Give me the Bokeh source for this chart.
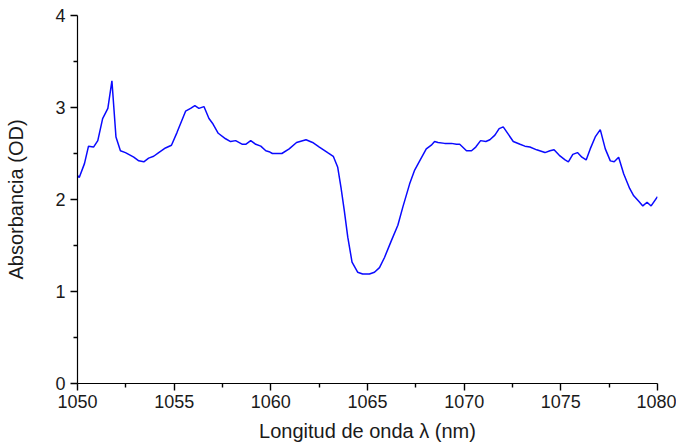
from bokeh.plotting import figure
from bokeh.models import Range1d, FixedTicker, LinearAxis
from bokeh.embed import file_html
from bokeh.resources import INLINE

wavelength = [1050.0, 1050.09, 1050.36, 1050.57, 1050.83, 1051.05, 1051.30, 1051.57, 1051.78, 1051.99,
              1052.22, 1052.48, 1052.91, 1053.17, 1053.43, 1053.68, 1053.94, 1054.20, 1054.55, 1054.86,
              1055.15, 1055.59, 1055.85, 1056.07, 1056.28, 1056.54, 1056.80, 1057.01, 1057.28, 1057.66,
              1057.92, 1058.18, 1058.53, 1058.70, 1058.96, 1059.22, 1059.48, 1059.74, 1059.91, 1060.08,
              1060.57, 1060.95, 1061.33, 1061.82, 1062.16, 1062.51, 1062.94, 1063.23, 1063.46, 1063.63,
              1063.80, 1063.98, 1064.20, 1064.49, 1064.75, 1065.10, 1065.36, 1065.62, 1065.88, 1066.23,
              1066.57, 1066.83, 1067.18, 1067.44, 1067.70, 1068.04, 1068.30, 1068.47, 1068.65, 1068.99,
              1069.34, 1069.60, 1069.77, 1070.12, 1070.38, 1070.60, 1070.85, 1071.12, 1071.33, 1071.59,
              1071.81, 1072.02, 1072.28, 1072.54, 1072.89, 1073.14, 1073.40, 1073.75, 1074.18, 1074.44,
              1074.65, 1074.92, 1075.22, 1075.39, 1075.62, 1075.86, 1076.09, 1076.31, 1076.52, 1076.78,
              1077.04, 1077.30, 1077.56, 1077.76, 1077.99, 1078.25, 1078.56, 1078.77, 1079.03, 1079.24,
              1079.46, 1079.67, 1080.0]

absorbance = [2.26, 2.24, 2.39, 2.58, 2.57, 2.64, 2.88, 2.99, 3.29, 2.68,
              2.53, 2.51, 2.46, 2.42, 2.41, 2.45, 2.47, 2.51, 2.56, 2.59,
              2.73, 2.96, 2.99, 3.02, 2.99, 3.01, 2.88, 2.82, 2.72, 2.66,
              2.63, 2.64, 2.60, 2.60, 2.64, 2.60, 2.58, 2.53, 2.52, 2.50,
              2.50, 2.55, 2.62, 2.65, 2.62, 2.57, 2.51, 2.47, 2.35, 2.13,
              1.88, 1.59, 1.32, 1.21, 1.19, 1.19, 1.21, 1.26, 1.37, 1.55,
              1.72, 1.92, 2.17, 2.32, 2.42, 2.55, 2.59, 2.63, 2.62, 2.61,
              2.61, 2.60, 2.60, 2.53, 2.53, 2.57, 2.64, 2.63, 2.65, 2.70,
              2.77, 2.79, 2.71, 2.63, 2.60, 2.58, 2.57, 2.54, 2.51, 2.53,
              2.54, 2.48, 2.43, 2.41, 2.49, 2.51, 2.46, 2.43, 2.55, 2.68,
              2.76, 2.55, 2.42, 2.41, 2.46, 2.28, 2.12, 2.04, 1.98, 1.93,
              1.97, 1.93, 2.03]

x_ticks = [1050, 1055, 1060, 1065, 1070, 1075, 1080]
x_minor = [1052.5, 1057.5, 1062.5, 1067.5, 1072.5, 1077.5]
y_ticks = [0, 1, 2, 3, 4]
y_minor = [0.5, 1.5, 2.5, 3.5]

p = figure(width=676, height=446, output_backend="svg", toolbar_location=None,
           x_range=Range1d(1050, 1080), y_range=Range1d(0, 4),
           x_axis_type=None, y_axis_type=None,
           min_border_left=77, min_border_right=19, min_border_top=15, min_border_bottom=63)

p.line(wavelength, absorbance, line_color="#0a0aff", line_width=1.5)

p.outline_line_color = None
p.grid.visible = False

common = dict(
    axis_line_color="black", axis_line_width=1.2,
    major_tick_line_color="black", major_tick_line_width=1.4,
    minor_tick_line_color="black", minor_tick_line_width=1.4,
    major_tick_in=0, major_tick_out=7, minor_tick_in=0, minor_tick_out=4,
    major_label_text_font="Liberation Sans", major_label_text_font_size="18px",
    major_label_text_color="#1a1a1a",
    axis_label_text_font="Liberation Sans", axis_label_text_font_size="20px",
    axis_label_text_font_style="normal", axis_label_text_color="#1a1a1a",
)

xaxis = LinearAxis(ticker=FixedTicker(ticks=x_ticks, minor_ticks=x_minor),
                   axis_label="Longitud de onda λ (nm)",
                   major_label_standoff=4, axis_label_standoff=9, **common)
yaxis = LinearAxis(ticker=FixedTicker(ticks=y_ticks, minor_ticks=y_minor),
                   axis_label="Absorbancia (OD)",
                   major_label_standoff=5, axis_label_standoff=25, **common)
p.add_layout(xaxis, "below")
p.add_layout(yaxis, "left")

open("out.html", "w").write(file_html(p, INLINE))
